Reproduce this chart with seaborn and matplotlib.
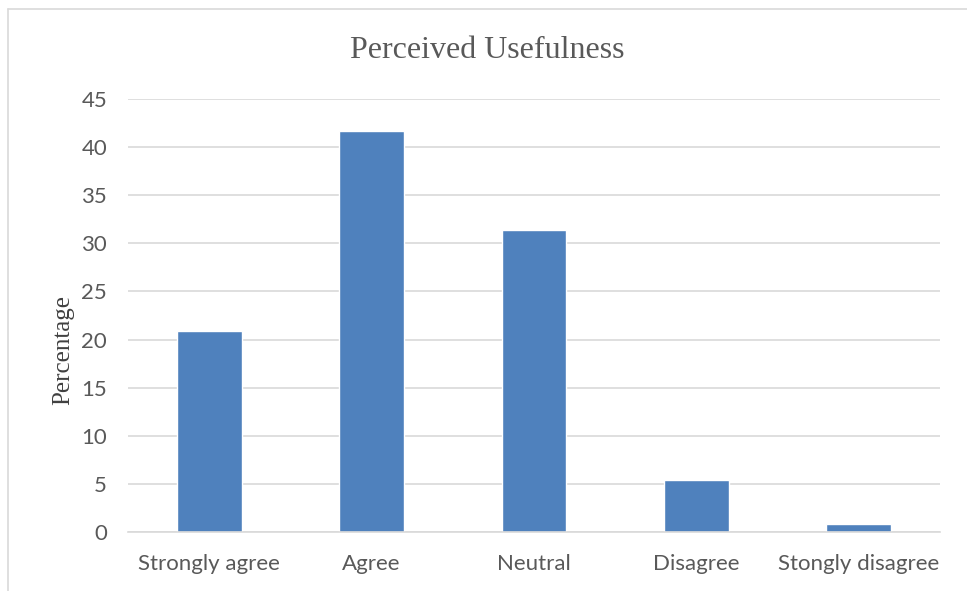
import matplotlib
matplotlib.use("Agg")
import matplotlib.pyplot as plt
from matplotlib.lines import Line2D
import seaborn as sns
import pandas as pd

categories = ["Strongly agree", "Agree", "Neutral", "Disagree", "Stongly disagree"]
percentages = [20.9, 41.7, 31.4, 5.4, 0.8]
y_ticks = [0, 5, 10, 15, 20, 25, 30, 35, 40, 45]

df = pd.DataFrame({"Response": categories, "Percentage": percentages})

sns.set_theme(style="white")
W, H = 967, 591
fig = plt.figure(figsize=(W / 100, H / 100), dpi=100)
ax = fig.add_axes([128 / W, 1 - 532 / H, (940 - 128) / W, (532 - 99) / H])

sns.barplot(data=df, x="Response", y="Percentage", color="#4F81BD",
            width=0.4, saturation=1, ax=ax)

ax.set_ylim(0, 45)
ax.set_xlim(-0.5, len(categories) - 0.5)
ax.set_yticks(y_ticks)
ax.yaxis.grid(True, color="#D9D9D9", linewidth=1.2)
ax.set_axisbelow(True)
for side in ["top", "right", "left"]:
    ax.spines[side].set_visible(False)
ax.spines["bottom"].set_color("#D9D9D9")
ax.spines["bottom"].set_linewidth(1.2)

tick_font = "Lato"
ax.tick_params(axis="both", length=0, colors="#595959", labelsize=16)
ax.tick_params(axis="y", pad=15)
ax.tick_params(axis="x", pad=16)
for lbl in ax.get_xticklabels() + ax.get_yticklabels():
    lbl.set_fontfamily(tick_font)

ax.set_xlabel("")
ax.set_ylabel("Percentage", fontfamily="Liberation Serif", fontsize=18,
              color="#404040")
ax.yaxis.set_label_coords(-54 / (940 - 128), (532 - 350) / (532 - 99))

fig.text(487 / W, 1 - 50 / H, "Perceived Usefulness", ha="center", va="center",
         fontfamily="Liberation Serif", fontsize=23, color="#595959")

# chart frame
fig.add_artist(Line2D([8 / W, 1], [1 - 9 / H, 1 - 9 / H], transform=fig.transFigure,
                      color="#D9D9D9", linewidth=1.2))
fig.add_artist(Line2D([8 / W, 8 / W], [0, 1 - 9 / H], transform=fig.transFigure,
                      color="#D9D9D9", linewidth=1.2))

fig.savefig("out.png", dpi=100)
